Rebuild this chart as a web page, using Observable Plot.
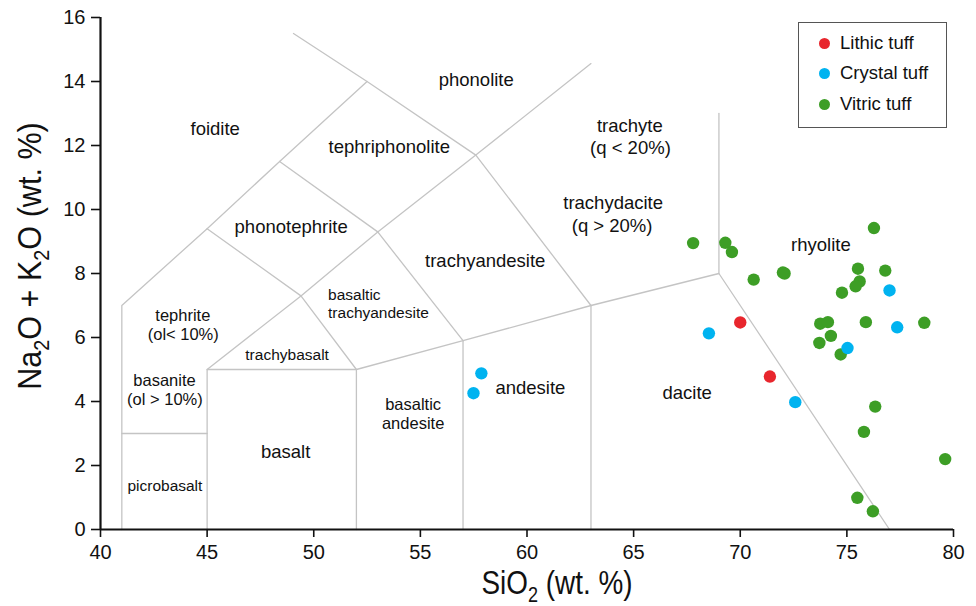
<!DOCTYPE html>
<html>
<head>
<meta charset="utf-8">
<script src="https://cdn.jsdelivr.net/npm/d3@7"></script>
<script src="https://cdn.jsdelivr.net/npm/@observablehq/plot@0.6"></script>
<style>
  html, body { margin: 0; padding: 0; background: white; }
  #wrap { position: relative; width: 976px; height: 606px; font-family: "Liberation Sans", Arial, sans-serif; }
  #legend { position: absolute; left: 798px; top: 22px; width: 147px; height: 104px; border: 1.5px solid #555; background: white; box-sizing: content-box; }
  #legend .row { position: absolute; left: 0; height: 20px; display: flex; align-items: center; font-size: 18.5px; color: #111; }
  #legend .sw { width: 11px; height: 11px; border-radius: 50%; margin-left: 20px; margin-right: 10px; }
</style>
</head>
<body>
<div id="wrap"></div>
<script>
// ---------- data ----------
const groups = ["Lithic tuff", "Crystal tuff", "Vitric tuff"];
const groupColors = ["#e8262d", "#00b3f0", "#3d9e26"];

const lithicTuff = [[70.0, 6.47], [71.39, 4.78]];
const crystalTuff = [[57.86, 4.88], [57.49, 4.26], [68.53, 6.13], [72.58, 3.98], [75.03, 5.67], [77.0, 7.47], [77.36, 6.32]];
const vitricTuff = [
  [67.79, 8.95], [69.30, 8.96], [69.61, 8.67], [70.63, 7.81], [72.08, 8.0], [72.0, 8.03],
  [76.27, 9.42], [75.52, 8.15], [76.80, 8.09], [75.60, 7.75], [75.41, 7.60], [74.77, 7.40],
  [73.75, 6.43], [74.11, 6.48], [75.89, 6.48], [78.63, 6.46], [74.25, 6.05], [73.71, 5.83],
  [74.71, 5.47], [76.33, 3.84], [75.80, 3.05], [79.61, 2.20], [75.49, 0.99], [76.22, 0.57]
];

// TAS field boundaries (SiO2, Na2O+K2O)
const boundaries = [
  [[41, 0], [41, 7], [45, 9.4], [48.4, 11.5], [52.5, 14]],
  [[49.05, 15.5], [52.5, 14], [57.6, 11.7], [63, 7], [69, 8], [77, 0]],
  [[45, 9.4], [49.4, 7.3], [52, 5], [57, 5.9], [63, 7]],
  [[45, 5], [49.4, 7.3], [53, 9.3], [57.6, 11.7], [63, 14.56]],
  [[48.4, 11.5], [53, 9.3], [57, 5.9]],
  [[41, 3], [45, 3]],
  [[45, 0], [45, 5], [52, 5]],
  [[52, 0], [52, 5]],
  [[57, 0], [57, 5.9]],
  [[63, 0], [63, 7]],
  [[69, 8], [69, 13]]
];

// field names: [text, SiO2, Na2O+K2O]
const fieldLabels = [
  ["foidite", 45.38, 12.52],
  ["phonolite", 57.62, 14.03],
  ["tephriphonolite", 53.54, 11.95],
  ["trachyte", 64.82, 12.6],
  ["(q < 20%)", 64.85, 11.92],
  ["phonotephrite", 48.94, 9.45],
  ["trachydacite", 64.04, 10.2],
  ["(q > 20%)", 63.99, 9.47],
  ["trachyandesite", 58.04, 8.38],
  ["rhyolite", 73.78, 8.9],
  ["andesite", 60.16, 4.41],
  ["dacite", 67.51, 4.26],
  ["basalt", 48.68, 2.42]
];
const mediumLabels = [
  ["tephrite", 43.86, 6.69],
  ["(ol< 10%)", 43.88, 6.09],
  ["basanite", 43.0, 4.66],
  ["(ol > 10%)", 43.02, 4.06],
  ["basaltic", 54.66, 3.91],
  ["andesite", 54.66, 3.31]
];
const smallLabels = [
  ["trachybasalt", 48.75, 5.44],
  ["picrobasalt", 43.02, 1.37]
];
const leftLabels = [
  ["basaltic", 50.67, 7.33],
  ["trachyandesite", 50.67, 6.77]
];

const xTicks = [40, 45, 50, 55, 60, 65, 70, 75, 80];
const yTicks = [0, 2, 4, 6, 8, 10, 12, 14, 16];

// ---------- tables ----------
const boundaryRows = boundaries.flatMap((seg, i) => seg.map(([x, y]) => ({id: i, x, y})));
const points = [
  ...vitricTuff.map(([x, y]) => ({x, y, g: groups[2]})),
  ...crystalTuff.map(([x, y]) => ({x, y, g: groups[1]})),
  ...lithicTuff.map(([x, y]) => ({x, y, g: groups[0]}))
];
const toRows = arr => arr.map(([t, x, y]) => ({t, x, y}));

const font = "'Liberation Sans', Arial, sans-serif";

const plot = Plot.plot({
  width: 976,
  height: 606,
  marginLeft: 100,
  marginRight: 23,
  marginTop: 17,
  marginBottom: 77,
  x: {domain: [40, 80]},
  y: {domain: [0, 16]},
  color: {domain: groups, range: groupColors},
  style: {fontFamily: font, background: "white", color: "#111"},
  marks: [
    Plot.line(boundaryRows, {x: "x", y: "y", z: "id", stroke: "#c4c4c4", strokeWidth: 1.3}),
    Plot.text(toRows(fieldLabels), {x: "x", y: "y", text: "t", fontSize: 18.5, fill: "#111"}),
    Plot.text(toRows(mediumLabels), {x: "x", y: "y", text: "t", fontSize: 16.5, fill: "#111"}),
    Plot.text(toRows(smallLabels), {x: "x", y: "y", text: "t", fontSize: 15.5, fill: "#111"}),
    Plot.text(toRows(leftLabels), {x: "x", y: "y", text: "t", fontSize: 15.5, textAnchor: "start", fill: "#111"}),
    Plot.dot(points, {x: "x", y: "y", fill: "g", r: 6.2, stroke: null}),
    Plot.axisX({ticks: xTicks, tickSize: 8, tickPadding: 7, fontSize: 20, label: null, stroke: "#111", strokeWidth: 1.6, fill: "#111"}),
    Plot.axisY({ticks: yTicks, tickSize: 9, tickPadding: 6, fontSize: 20, label: null, stroke: "#111", strokeWidth: 1.6, fill: "#111"}),
    Plot.ruleX([40], {y1: 0, y2: 16, stroke: "#111", strokeWidth: 2.2}),
    Plot.ruleY([0], {x1: 40, x2: 80, stroke: "#111", strokeWidth: 2.2})
  ]
});

// axis titles with subscripts (slightly condensed, as in the reference)
const svg = d3.select(plot);
const xt = svg.append("text")
  .attr("transform", "translate(557,594) scale(0.82,1)")
  .attr("text-anchor", "middle")
  .attr("font-size", 34)
  .attr("fill", "#111")
  .attr("font-family", font);
xt.append("tspan").text("SiO");
xt.append("tspan").attr("font-size", 22).attr("dy", 8).text("2");
xt.append("tspan").attr("dy", -8).text(" (wt. %)");

const yt = svg.append("text")
  .attr("transform", "translate(41,256) rotate(-90) scale(0.9,1)")
  .attr("text-anchor", "middle")
  .attr("font-size", 34)
  .attr("fill", "#111")
  .attr("font-family", font);
yt.append("tspan").text("Na");
yt.append("tspan").attr("font-size", 22).attr("dy", 8).text("2");
yt.append("tspan").attr("dy", -8).text("O + K");
yt.append("tspan").attr("font-size", 22).attr("dy", 8).text("2");
yt.append("tspan").attr("dy", -8).text("O (wt. %)");

const wrap = document.getElementById("wrap");
wrap.appendChild(plot);

// legend
const legend = document.createElement("div");
legend.id = "legend";
const rowTops = [10, 40, 71];
groups.forEach((g, i) => {
  const row = document.createElement("div");
  row.className = "row";
  row.style.top = rowTops[i] + "px";
  const sw = document.createElement("span");
  sw.className = "sw";
  sw.style.background = groupColors[i];
  const lab = document.createElement("span");
  lab.textContent = g;
  row.appendChild(sw);
  row.appendChild(lab);
  legend.appendChild(row);
});
wrap.appendChild(legend);
</script>
</body>
</html>
